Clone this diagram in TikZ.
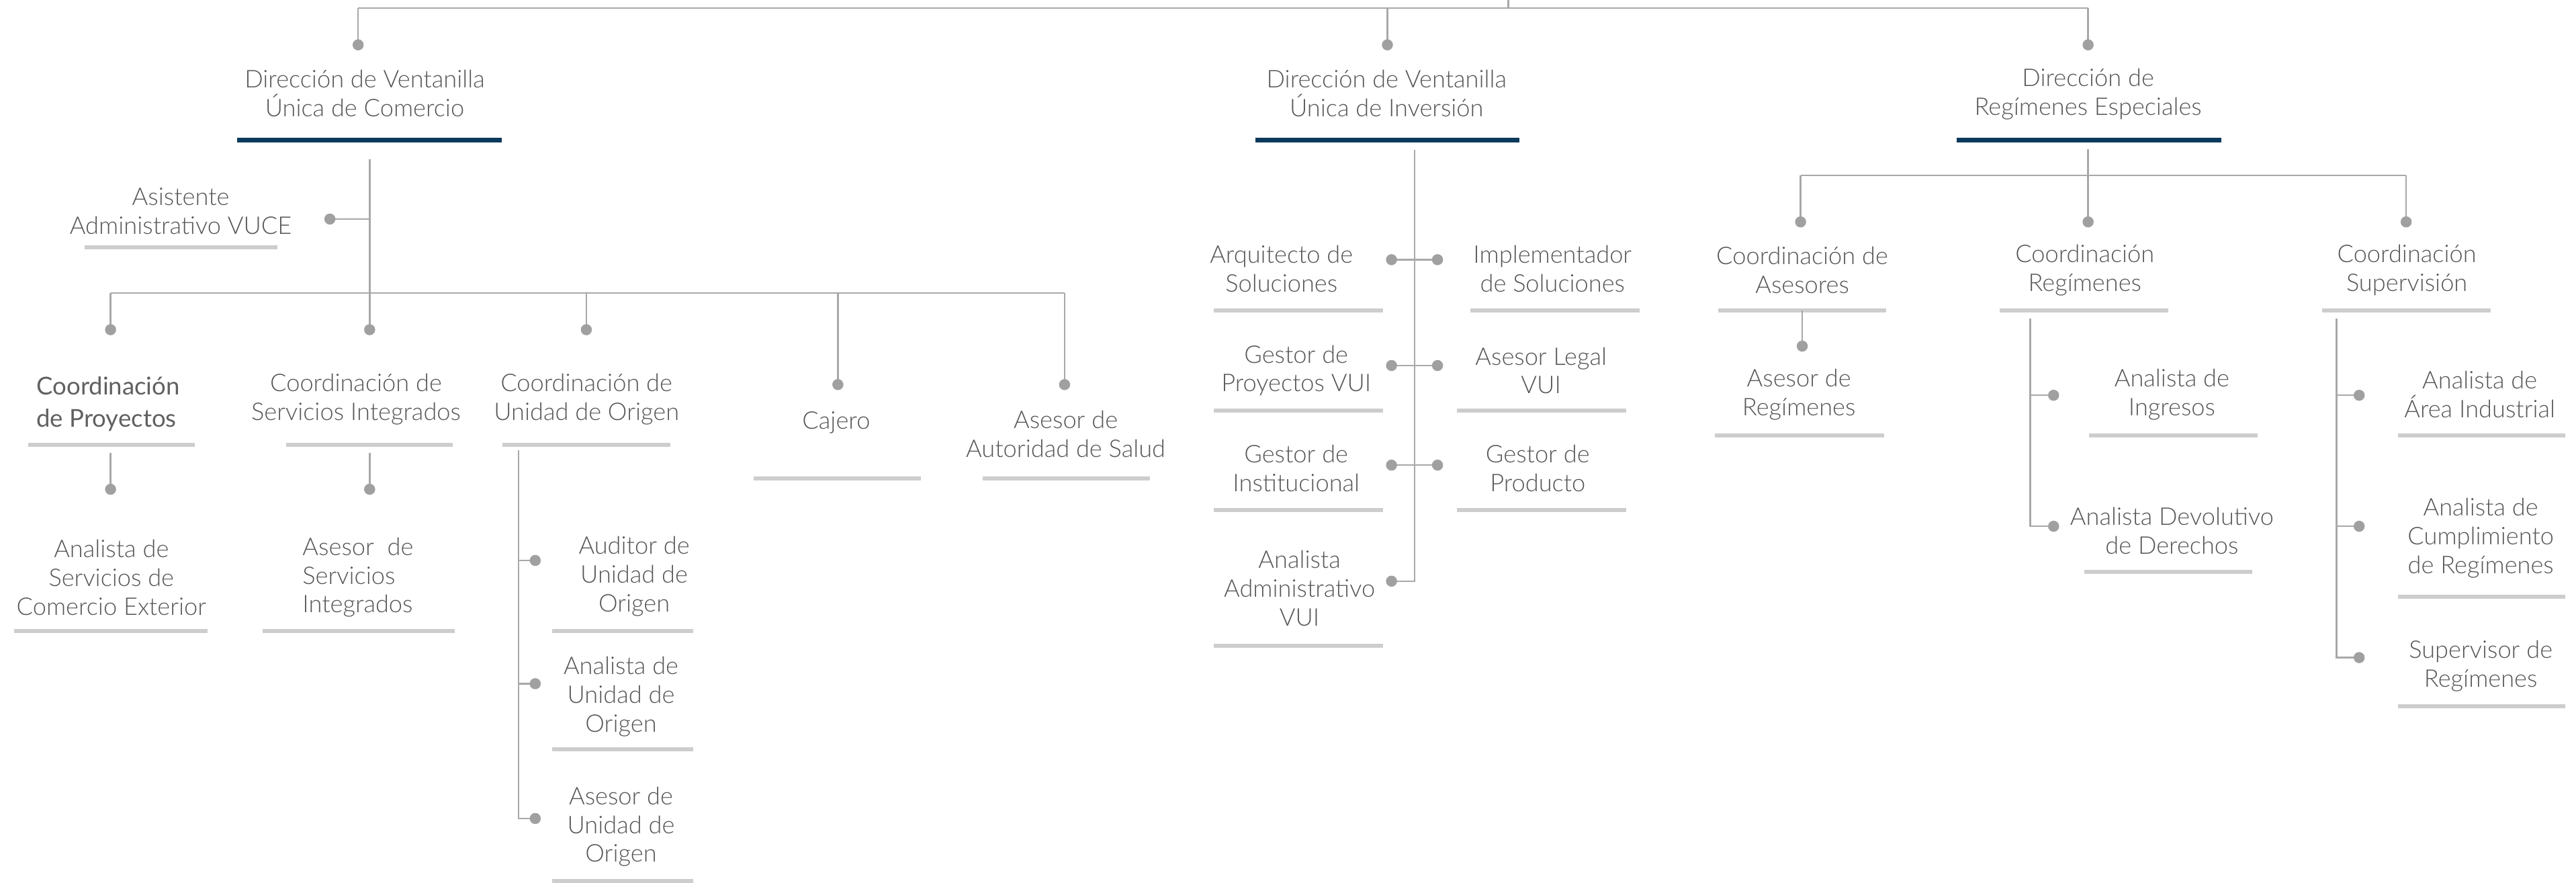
\documentclass[tikz,border=0pt]{standalone}
\usepackage{fontspec}
\setmainfont{Lato}[UprightFont={* Light}]
\newfontfamily\latoreg{Lato}
\definecolor{lineg}{HTML}{A8A8A8}
\definecolor{dotg}{HTML}{A0A0A0}
\definecolor{barg}{HTML}{CDCDCD}
\definecolor{navy}{HTML}{0B3A5C}
\definecolor{txtg}{HTML}{555555}
\definecolor{txtr}{HTML}{606060}
\begin{document}
\begin{tikzpicture}[x=0.024458cm,y=-0.024458cm,
  conn/.style={draw=lineg, line width=0.7pt},
  dotn/.style={circle, fill=dotg, inner sep=0pt, minimum size=0.165cm},
  lbl/.style={align=center, inner sep=0pt, text=txtg, font=\fontsize{10.3}{12.2}\selectfont},
  gbar/.style={draw=barg, line width=1.7pt},
  nbar/.style={draw=navy, line width=1.85pt}]
\useasboundingbox (0,0) rectangle (1568,537);

% ---------- coordinates ----------
\coordinate (root) at (918,0);
\coordinate (rj) at (918,5);
\coordinate (t1) at (218,5);
\coordinate (t2) at (844.5,5);
\coordinate (t3) at (1271,5);
\coordinate (p1) at (218,27.3);
\coordinate (p2) at (844.5,27.3);
\coordinate (p3) at (1271,27.3);

% branch 1
\coordinate (b1top) at (225,97);
\coordinate (asisj) at (225,133.3);
\coordinate (asisp) at (200.8,133.3);
\coordinate (h1L) at (67.3,178.3);
\coordinate (h1R) at (648,178.3);
\coordinate (j13) at (356.9,178.3);
\coordinate (j14) at (510,178.3);
\coordinate (cp1) at (67.3,200.6);
\coordinate (cp2) at (225,200.6);
\coordinate (cp3) at (356.9,200.6);
\coordinate (cp4) at (510,234);
\coordinate (cp5) at (648,234);
\coordinate (s1top) at (67.3,275.5);
\coordinate (sp1) at (67.3,297.7);
\coordinate (s2top) at (225,275.5);
\coordinate (sp2) at (225,297.7);
\coordinate (s3top) at (315.6,274);
\coordinate (s3a) at (315.6,341);
\coordinate (s3b) at (315.6,416);
\coordinate (s3c) at (315.6,498);
\coordinate (sq1) at (325.8,341);
\coordinate (sq2) at (325.8,416);
\coordinate (sq3) at (325.8,498);

% branch 2
\coordinate (v2top) at (861,91);
\coordinate (v2bot) at (861,353.6);
\coordinate (L1) at (847,158);
\coordinate (R1) at (875,158);
\coordinate (L2) at (847,222.4);
\coordinate (R2) at (875,222.4);
\coordinate (L3) at (847,283);
\coordinate (R3) at (875,283);
\coordinate (L4) at (847,353.6);

% branch 3
\coordinate (v3top) at (1271,90.6);
\coordinate (h3L) at (1096,106.7);
\coordinate (h3R) at (1464.6,106.7);
\coordinate (q1) at (1096,135);
\coordinate (q2) at (1271,135);
\coordinate (q3) at (1464.6,135);
\coordinate (a3top) at (1097,189);
\coordinate (a3p) at (1097,210.6);
\coordinate (r3top) at (1235.8,193.8);
\coordinate (r3a) at (1235.8,240.5);
\coordinate (r3b) at (1235.8,320.2);
\coordinate (rq1) at (1250,240.5);
\coordinate (rq2) at (1250,320.2);
\coordinate (u3top) at (1422.3,193.8);
\coordinate (u3a) at (1422.3,240.5);
\coordinate (u3b) at (1422.3,320.2);
\coordinate (u3c) at (1422.3,400.1);
\coordinate (uq1) at (1436,240.5);
\coordinate (uq2) at (1436,320.2);
\coordinate (uq3) at (1436,400.1);

% ---------- bars ----------
\draw[nbar] (144.4,85.2) -- (305.5,85.2);
\draw[nbar] (764,85.2) -- (925,85.2);
\draw[nbar] (1191,85.2) -- (1352,85.2);

\draw[gbar] (51.4,150.6) -- (169,150.6);
\draw[gbar] (17,270.5) -- (118.6,270.5);
\draw[gbar] (174,270.5) -- (275.7,270.5);
\draw[gbar] (306,270.5) -- (408,270.5);
\draw[gbar] (458.7,291) -- (560.6,291);
\draw[gbar] (598,291) -- (699.8,291);
\draw[gbar] (8.6,383.8) -- (126.5,383.8);
\draw[gbar] (159.7,383.8) -- (277,383.8);
\draw[gbar] (336,384) -- (422,384);
\draw[gbar] (336,456) -- (422,456);
\draw[gbar] (336,536) -- (422,536);

\draw[gbar] (739,189) -- (842,189);
\draw[gbar] (895,189) -- (998,189);
\draw[gbar] (739,250) -- (842,250);
\draw[gbar] (887,250) -- (990,250);
\draw[gbar] (739,310.5) -- (842,310.5);
\draw[gbar] (887,310.5) -- (990,310.5);
\draw[gbar] (739,393) -- (842,393);

\draw[gbar] (1046,189) -- (1148,189);
\draw[gbar] (1217,189) -- (1320,189);
\draw[gbar] (1413.5,189) -- (1516,189);
\draw[gbar] (1044,265) -- (1147,265);
\draw[gbar] (1271.6,265) -- (1374,265);
\draw[gbar] (1268.5,348) -- (1371,348);
\draw[gbar] (1459.6,265) -- (1561.5,265);
\draw[gbar] (1459.6,363) -- (1561.5,363);
\draw[gbar] (1459.6,429.7) -- (1561.5,429.7);

% ---------- connectors ----------
\draw[conn] (root) -- (rj);
\draw[conn] (t1) -- (t3);
\draw[conn] (t1) -- (p1);
\draw[conn] (t2) -- (p2);
\draw[conn] (t3) -- (p3);

\draw[conn] (b1top) -- (cp2);
\draw[conn] (asisj) -- (asisp);
\draw[conn] (h1L) -- (h1R);
\draw[conn] (h1L) -- (cp1);
\draw[conn] (j13) -- (cp3);
\draw[conn] (j14) -- (cp4);
\draw[conn] (h1R) -- (cp5);
\draw[conn] (s1top) -- (sp1);
\draw[conn] (s2top) -- (sp2);
\draw[conn] (s3top) -- (s3c) -- (sq3);
\draw[conn] (s3a) -- (sq1);
\draw[conn] (s3b) -- (sq2);

\draw[conn] (v2top) -- (v2bot) -- (L4);
\draw[conn] (L1) -- (R1);
\draw[conn] (L2) -- (R2);
\draw[conn] (L3) -- (R3);

\draw[conn] (v3top) -- (q2);
\draw[conn] (h3L) -- (h3R);
\draw[conn] (h3L) -- (q1);
\draw[conn] (h3R) -- (q3);
\draw[conn] (a3top) -- (a3p);
\draw[conn] (r3top) -- (r3b) -- (rq2);
\draw[conn] (r3a) -- (rq1);
\draw[conn] (u3top) -- (u3c) -- (uq3);
\draw[conn] (u3a) -- (uq1);
\draw[conn] (u3b) -- (uq2);

% ---------- dots ----------
\foreach \c in {p1,p2,p3,asisp,cp1,cp2,cp3,cp4,cp5,sp1,sp2,sq1,sq2,sq3,
  L1,R1,L2,R2,L3,R3,L4,q1,q2,q3,a3p,rq1,rq2,uq1,uq2,uq3}
  \node[dotn] (dot-\c) at (\c) {};

% ---------- labels ----------
\node[lbl] (n-dvuc) at (222,57) {Dirección de Ventanilla\\Única de Comercio};
\node[lbl] (n-dvui) at (844,57) {Dirección de Ventanilla\\Única de Inversión};
\node[lbl] (n-dre) at (1271,57.5) {Dirección de\\Regímenes Especiales};

\node[lbl] (n-asis) at (110,128.5) {Asistente\\Administrativo VUCE};
\node[lbl, align=left, anchor=west, text=txtr, font=\latoreg\fontsize{10.4}{13.6}\selectfont] (n-cproy) at (22,245.7) {Coordinación\\de Proyectos};
\node[lbl] (n-csi) at (216.7,242.8) {Coordinación de\\Servicios Integrados};
\node[lbl] (n-cuo) at (357,242.8) {Coordinación de\\Unidad de Origen};
\node[lbl] (n-caj) at (509,257) {Cajero};
\node[lbl] (n-aas) at (648.7,264) {Asesor de\\Autoridad de Salud};
\node[lbl] (n-asce) at (67.8,351.3) {Analista de\\Servicios de\\Comercio Exterior};
\node[lbl, align=left, anchor=west] (n-asi) at (183.9,351.3) {Asesor\ \ de\\Servicios\\Integrados};
\node[lbl] (n-auo) at (386,350.8) {Auditor de\\Unidad de\\Origen};
\node[lbl] (n-anuo) at (378,424) {Analista de\\Unidad de\\Origen};
\node[lbl] (n-asuo) at (378,503) {Asesor de\\Unidad de\\Origen};

\node[lbl] (n-arq) at (780,163.5) {Arquitecto de\\Soluciones};
\node[lbl] (n-imp) at (945,163.5) {Implementador\\de Soluciones};
\node[lbl] (n-gpv) at (789,225.5) {Gestor de\\Proyectos VUI};
\node[lbl] (n-alv) at (938,225.5) {Asesor Legal\\VUI};
\node[lbl] (n-gin) at (789,285) {Gestor de\\Institucional};
\node[lbl] (n-gpr) at (936,285) {Gestor de\\Producto};
\node[lbl] (n-aav) at (791,358) {Analista\\Administrativo\\VUI};

\node[lbl] (n-cas) at (1097,164.3) {Coordinación de\\Asesores};
\node[lbl] (n-creg) at (1269,164.3) {Coordinación\\Regímenes};
\node[lbl] (n-csup) at (1465,164.3) {Coordinación\\Supervisión};
\node[lbl] (n-areg) at (1095,240) {Asesor de\\Regímenes};
\node[lbl] (n-ain) at (1322,240) {Analista de\\Ingresos};
\node[lbl] (n-add) at (1322,323) {Analista Devolutivo\\de Derechos};
\node[lbl] (n-aai) at (1509.4,240) {Analista de\\Área Industrial};
\node[lbl] (n-acr) at (1510,327.5) {Analista de\\Cumplimiento\\de Regímenes};
\node[lbl] (n-sreg) at (1510,405.2) {Supervisor de\\Regímenes};
\end{tikzpicture}
\end{document}
